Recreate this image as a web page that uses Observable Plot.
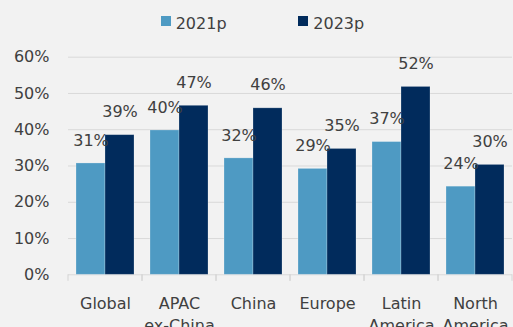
<!DOCTYPE html>
<html><head><meta charset="utf-8">
<script src="https://cdn.jsdelivr.net/npm/d3@7"></script>
<script src="https://cdn.jsdelivr.net/npm/@observablehq/plot@0.6"></script>
<style>
html,body{margin:0;padding:0;background:#f2f2f2;}
#wrap{width:513px;height:327px;overflow:hidden;font-family:"DejaVu Sans",sans-serif;color:#404040;background:#f2f2f2;}
#legend{position:relative;height:40px;font-size:16px;}
.sw{position:absolute;top:16px;width:10px;height:10px;}
.lt{position:absolute;top:14.5px;line-height:18px;white-space:nowrap;}
#chart svg{display:block;}
</style></head><body><div id="wrap"><div id="legend"></div><div id="chart"></div></div>
<script>
const categories = ["Global","APAC\nex-China","China","Europe","Latin\nAmerica","North\nAmerica"];
const seriesNames = ["2021p","2023p"];
const values2021p = [30.7,39.8,32.1,29.2,36.6,24.3];
const values2023p = [38.5,46.6,45.9,34.7,51.8,30.3];
const yTicks = [0,10,20,30,40,50,60];
const seriesColors = ["#4e9ac3","#012b5c"];

const data = [];
categories.forEach((c,i)=>{
  data.push({category:c, series:seriesNames[0], value:values2021p[i]});
  data.push({category:c, series:seriesNames[1], value:values2023p[i]});
});

// legend
const legend = document.getElementById("legend");
const legendLeft = [160.7, 298.3];
seriesNames.forEach((s,i)=>{
  const sw = document.createElement("div");
  sw.className="sw"; sw.style.left=legendLeft[i]+"px"; sw.style.background=seriesColors[i];
  const t = document.createElement("div");
  t.className="lt"; t.style.left=(legendLeft[i]+15)+"px"; t.textContent=s;
  legend.appendChild(sw); legend.appendChild(t);
});

function boundaryTicks(index, scales, values, dims) {
  const g = d3.create("svg:g").attr("stroke", "#d4d4d4").attr("stroke-width", 1);
  const y0 = scales.y(0);
  for (const x of [dims.marginLeft, dims.width - dims.marginRight]) {
    g.append("line").attr("x1", x).attr("x2", x).attr("y1", y0).attr("y2", y0 + 6.5);
  }
  return g.node();
}

const chart = Plot.plot({
  width: 513,
  height: 287,
  marginLeft: 67,
  marginRight: 0,
  marginTop: 16.7,
  marginBottom: 52.7,
  style: {background:"#f2f2f2", fontFamily:"'DejaVu Sans', sans-serif", fontSize:"16px", color:"#404040"},
  fx: {domain: categories, padding: 0},
  x: {domain: seriesNames, paddingInner: 0, paddingOuter: 0.25, axis: null},
  y: {domain: [0, 60]},
  color: {domain: seriesNames, range: seriesColors},
  marks: [
    Plot.gridY(yTicks, {stroke: "#d9d9d9", strokeOpacity: 1, strokeWidth: 1}),
    Plot.barY(data, {fx: "category", x: "series", y: "value", fill: "series", stroke: "#ffffff", strokeOpacity: 0.3, strokeWidth: 0.75}),
    Plot.text(data, {fx: "category", x: "series", y: "value", text: d => Math.round(d.value) + "%", dy: -23, fontSize: 16, fill: "#404040"}),
    boundaryTicks,
    Plot.axisY(yTicks, {tickFormat: d => d + "%", tickSize: 0, tickPadding: 19, fontSize: 16, label: null}),
    Plot.axisFx({anchor: "bottom", tickSize: 0, tickPadding: 19, lineHeight: 1.35, fontSize: 16, label: null})
  ]
});
document.getElementById("chart").appendChild(chart);
</script></body></html>
